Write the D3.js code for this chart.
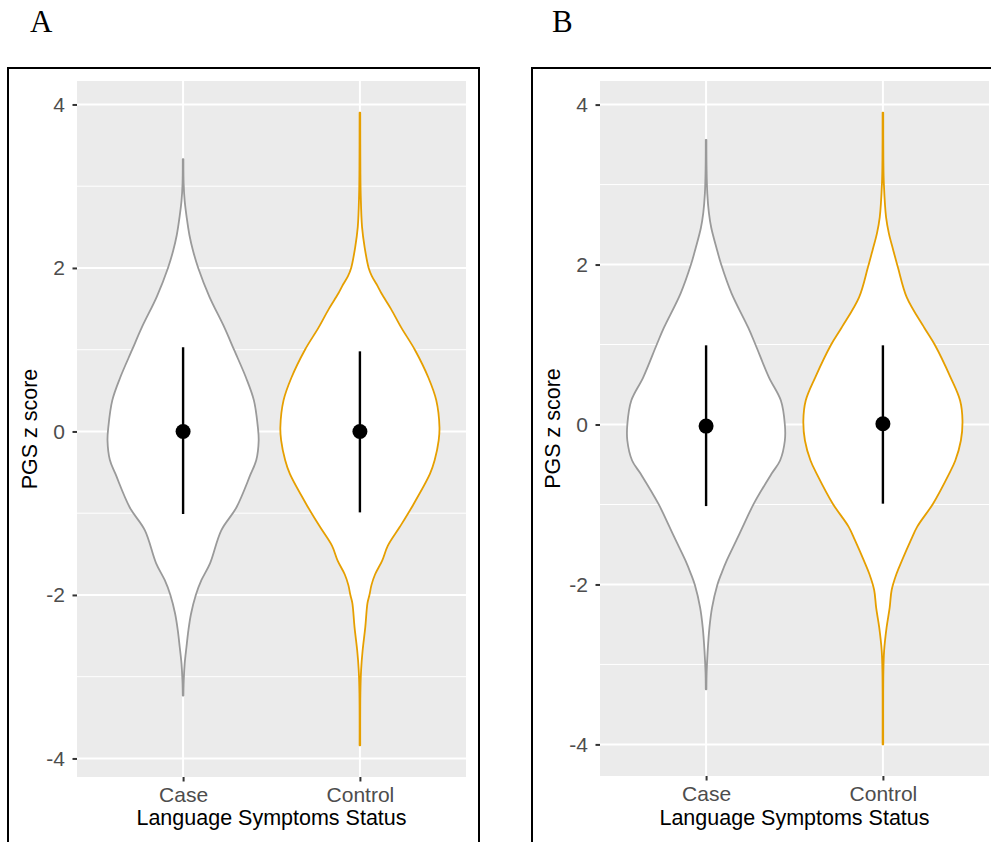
<!DOCTYPE html>
<html>
<head>
<meta charset="utf-8">
<script src="https://cdn.jsdelivr.net/npm/d3@7"></script>
<style>
  html, body { margin: 0; padding: 0; background: #ffffff; }
  svg { display: block; }
</style>
</head>
<body>
<div id="chart"></div>
<script>
// ---------- data ----------
const categories = ["Case", "Control"];
const yTickValues = [-4, -2, 0, 2, 4];
const yMinorValues = [-3, -1, 1, 3];
const panelLabels = ["A", "B"];
const xTitle = "Language Symptoms Status";
const yTitle = "PGS z score";

// violin outlines: [value, relative density (1 = widest violin)]
const caseA = [
  [3.33, 0.004], [3.03, 0.007], [2.82, 0.02], [2.62, 0.045], [2.40, 0.08], [2.21, 0.125],
  [2.00, 0.19], [1.65, 0.33], [1.27, 0.52], [1.00, 0.64], [0.66, 0.79], [0.38, 0.89],
  [0.05, 0.94], [-0.11, 0.95], [-0.35, 0.92], [-0.52, 0.85], [-0.93, 0.67], [-1.21, 0.48],
  [-1.61, 0.34], [-1.82, 0.23], [-2.00, 0.16], [-2.23, 0.10], [-2.43, 0.067], [-2.64, 0.042],
  [-2.84, 0.02], [-3.05, 0.008], [-3.23, 0.004]
];
const controlA = [
  [3.90, 0.004], [3.20, 0.006], [2.90, 0.01], [2.50, 0.027], [2.25, 0.06], [2.00, 0.11],
  [1.90, 0.15], [1.80, 0.21], [1.69, 0.27], [1.50, 0.39], [1.27, 0.52], [1.00, 0.69],
  [0.66, 0.86], [0.38, 0.96], [0.05, 1.00], [-0.11, 0.99], [-0.35, 0.94], [-0.52, 0.88],
  [-0.93, 0.65], [-1.17, 0.50], [-1.40, 0.35], [-1.58, 0.28], [-1.75, 0.19], [-1.88, 0.145],
  [-2.00, 0.12], [-2.10, 0.095], [-2.40, 0.067], [-2.68, 0.034], [-2.92, 0.015], [-3.20, 0.006],
  [-3.84, 0.004]
];
const caseB = [
  [3.56, 0.004], [3.20, 0.006], [2.89, 0.015], [2.65, 0.035], [2.46, 0.065], [2.21, 0.13],
  [2.00, 0.19], [1.64, 0.32], [1.21, 0.53], [1.00, 0.62], [0.59, 0.79], [0.30, 0.94],
  [0.00, 0.99], [-0.20, 0.99], [-0.45, 0.93], [-0.62, 0.82], [-0.99, 0.60], [-1.28, 0.46],
  [-1.45, 0.38], [-1.70, 0.26], [-1.87, 0.19], [-2.01, 0.14], [-2.29, 0.075], [-2.54, 0.042],
  [-2.83, 0.02], [-3.10, 0.007], [-3.31, 0.004]
];
const controlB = [
  [3.90, 0.004], [3.30, 0.006], [3.01, 0.012], [2.59, 0.04], [2.39, 0.075], [2.18, 0.13],
  [1.96, 0.19], [1.59, 0.30], [1.21, 0.52], [1.00, 0.65], [0.59, 0.85], [0.30, 0.97],
  [0.05, 1.00], [-0.20, 0.98], [-0.45, 0.91], [-0.62, 0.83], [-0.99, 0.63], [-1.28, 0.43],
  [-1.45, 0.35], [-1.70, 0.24], [-1.87, 0.17], [-2.07, 0.11], [-2.29, 0.085], [-2.54, 0.046],
  [-2.83, 0.015], [-3.10, 0.006], [-4.00, 0.004]
];

// mean and +/- 1 SD
const meansA = [0.00, 0.00];
const lowA = [-1.01, -0.99];
const highA = [1.03, 0.98];
const meansB = [-0.02, 0.01];
const lowB = [-1.02, -0.99];
const highB = [0.99, 0.99];

const colors = ["#9a9a9a", "#E69F00"];

// ---------- drawing ----------
const W = 991, H = 842;
const svg = d3.select("#chart").append("svg").attr("width", W).attr("height", H);

const panels = [
  { label: panelLabels[0], violins: [caseA, controlA], means: meansA, lo: lowA, hi: highA,
    box: { x: 8, y: 68, w: 471 }, plot: { x: 77, y: 81, w: 389, h: 696 }, labelX: 30 },
  { label: panelLabels[1], violins: [caseB, controlB], means: meansB, lo: lowB, hi: highB,
    box: { x: 532, y: 68, w: 471 }, plot: { x: 600, y: 81, w: 389, h: 695 }, labelX: 552 }
];

panels.forEach(p => {
  const g = svg.append("g");

  // panel label
  g.append("text")
    .attr("x", p.labelX).attr("y", 32)
    .attr("font-family", "Liberation Serif, Times New Roman, serif")
    .attr("font-size", 31).attr("fill", "#000")
    .text(p.label);

  // border
  g.append("rect")
    .attr("x", p.box.x).attr("y", p.box.y)
    .attr("width", p.box.w).attr("height", H)
    .attr("fill", "none").attr("stroke", "#000").attr("stroke-width", 2);

  const allVals = p.violins.flat().map(d => d[0]);
  const vmin = d3.min(allVals), vmax = d3.max(allVals);
  const pad = (vmax - vmin) * 0.05;

  const y = d3.scaleLinear()
    .domain([vmin - pad, vmax + pad])
    .range([p.plot.y + p.plot.h, p.plot.y]);
  const x = d3.scalePoint()
    .domain(categories)
    .range([p.plot.x, p.plot.x + p.plot.w])
    .padding(0.6);
  const halfW = d3.scaleLinear().domain([0, 1]).range([0, x.step() * 0.45]);

  // background
  g.append("rect")
    .attr("x", p.plot.x).attr("y", p.plot.y)
    .attr("width", p.plot.w).attr("height", p.plot.h)
    .attr("fill", "#EBEBEB");

  // minor grid
  g.selectAll(".minor").data(yMinorValues).enter().append("line")
    .attr("x1", p.plot.x).attr("x2", p.plot.x + p.plot.w)
    .attr("y1", d => y(d)).attr("y2", d => y(d))
    .attr("stroke", "#fff").attr("stroke-width", 1);
  // major grid
  g.selectAll(".majorY").data(yTickValues).enter().append("line")
    .attr("x1", p.plot.x).attr("x2", p.plot.x + p.plot.w)
    .attr("y1", d => y(d)).attr("y2", d => y(d))
    .attr("stroke", "#fff").attr("stroke-width", 2);
  g.selectAll(".majorX").data(categories).enter().append("line")
    .attr("x1", d => x(d)).attr("x2", d => x(d))
    .attr("y1", p.plot.y).attr("y2", p.plot.y + p.plot.h)
    .attr("stroke", "#fff").attr("stroke-width", 2);

  // violins
  p.violins.forEach((v, i) => {
    const cx = x(categories[i]);
    const area = d3.area()
      .curve(d3.curveCatmullRom.alpha(0.5))
      .y(d => y(d[0]))
      .x0(d => cx - halfW(d[1]))
      .x1(d => cx + halfW(d[1]));
    g.append("path")
      .attr("d", area(v))
      .attr("fill", "#fff")
      .attr("stroke", colors[i])
      .attr("stroke-width", 1.8)
      .attr("stroke-linejoin", "round");
  });

  // error bars and points
  categories.forEach((c, i) => {
    g.append("line")
      .attr("x1", x(c)).attr("x2", x(c))
      .attr("y1", y(p.lo[i])).attr("y2", y(p.hi[i]))
      .attr("stroke", "#000").attr("stroke-width", 2.4);
    g.append("circle")
      .attr("cx", x(c)).attr("cy", y(p.means[i]))
      .attr("r", 7.5).attr("fill", "#000");
  });

  // y axis
  const yAxis = d3.axisLeft(y).tickValues(yTickValues).tickSize(4.5).tickPadding(7.5)
    .tickFormat(d3.format("d"));
  const ya = g.append("g").attr("transform", `translate(${p.plot.x},0)`).call(yAxis);
  ya.select(".domain").remove();
  ya.selectAll(".tick line").attr("stroke", "#333").attr("stroke-width", 2);
  ya.selectAll(".tick text")
    .attr("font-family", "Liberation Sans, Arial, sans-serif")
    .attr("font-size", 21).attr("fill", "#4D4D4D")
    .text(d => d < 0 ? "-" + Math.abs(d) : d);

  // x axis
  const xAxis = d3.axisBottom(x).tickSize(4.5).tickPadding(5.5);
  const xa = g.append("g").attr("transform", `translate(0,${p.plot.y + p.plot.h})`).call(xAxis);
  xa.select(".domain").remove();
  xa.selectAll(".tick line").attr("stroke", "#333").attr("stroke-width", 2);
  xa.selectAll(".tick text")
    .attr("font-family", "Liberation Sans, Arial, sans-serif")
    .attr("font-size", 21).attr("fill", "#4D4D4D");

  // axis titles
  g.append("text")
    .attr("x", p.plot.x + p.plot.w / 2).attr("y", 825)
    .attr("text-anchor", "middle")
    .attr("font-family", "Liberation Sans, Arial, sans-serif")
    .attr("font-size", 21.5).attr("fill", "#000")
    .text(xTitle);
  g.append("text")
    .attr("transform", `translate(${p.plot.x - 40},${p.plot.y + p.plot.h / 2}) rotate(-90)`)
    .attr("text-anchor", "middle")
    .attr("font-family", "Liberation Sans, Arial, sans-serif")
    .attr("font-size", 21.5).attr("fill", "#000")
    .text(yTitle);
});
</script>
</body>
</html>
